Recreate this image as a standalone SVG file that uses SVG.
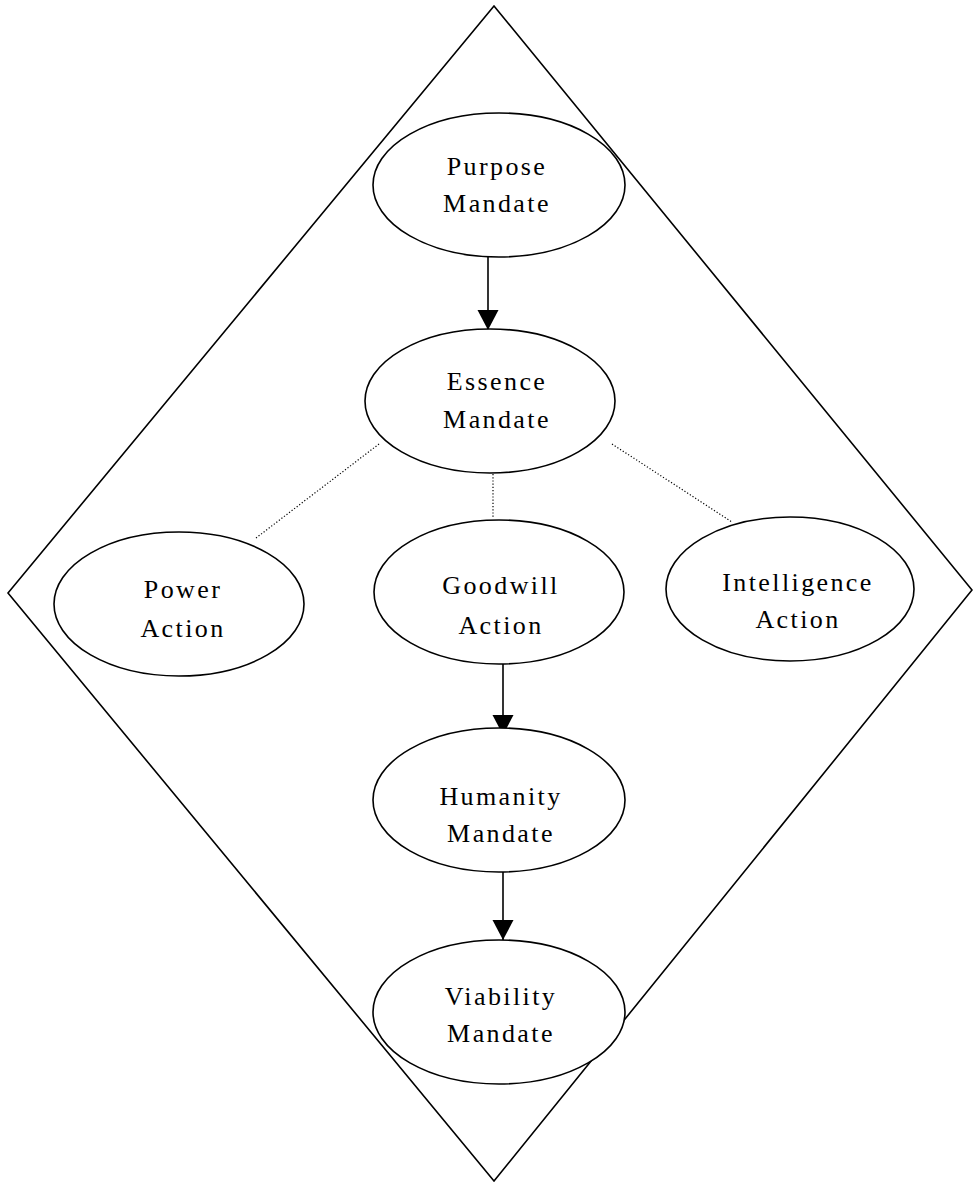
<svg xmlns="http://www.w3.org/2000/svg" width="973" height="1182" viewBox="0 0 973 1182">
<style>
.n{fill:#fff;stroke:#000;stroke-width:1.6}
.t{font-family:"Liberation Serif","Times New Roman",serif;font-size:26px;letter-spacing:2.4px;text-anchor:middle;fill:#000}
.a{stroke:#000;stroke-width:1.6;fill:none}
.d{stroke:#000;stroke-width:1.2;stroke-dasharray:1.2,2;fill:none}
</style>
<defs>
<marker id="ah" markerUnits="userSpaceOnUse" markerWidth="22" markerHeight="22" viewBox="0 0 22 22" refX="20" refY="11" orient="auto">
<path d="M0,0.5 L20,11 L0,21.5 Z" fill="#000"/>
</marker>
</defs>
<polygon points="494,6 972,590 494,1181 8,593" fill="none" stroke="#000" stroke-width="1.6"/>
<g id="connectors">
<line class="a" x1="488" y1="257" x2="488" y2="330" marker-end="url(#ah)"/>
<line class="a" x1="503" y1="664" x2="503" y2="735" marker-end="url(#ah)"/>
<line class="a" x1="503" y1="872" x2="503" y2="940" marker-end="url(#ah)"/>
<line class="d" x1="379" y1="444" x2="256" y2="538"/>
<line class="d" x1="493" y1="474" x2="493" y2="518"/>
<line class="d" x1="612" y1="444" x2="732" y2="522"/>
</g>
<g id="purpose"><ellipse class="n" cx="499" cy="185" rx="126" ry="72"/><text class="t" x="497" y="175">Purpose</text><text class="t" x="497" y="212">Mandate</text></g>
<g id="essence"><ellipse class="n" cx="490" cy="401" rx="125" ry="72"/><text class="t" x="497" y="390">Essence</text><text class="t" x="497" y="428">Mandate</text></g>
<g id="power"><ellipse class="n" cx="179" cy="604" rx="125" ry="72"/><text class="t" x="183" y="598">Power</text><text class="t" x="183" y="637">Action</text></g>
<g id="goodwill"><ellipse class="n" cx="499" cy="592" rx="125" ry="72"/><text class="t" x="501" y="594">Goodwill</text><text class="t" x="501" y="634">Action</text></g>
<g id="intelligence"><ellipse class="n" cx="790" cy="589" rx="124" ry="72"/><text class="t" x="798" y="591">Intelligence</text><text class="t" x="798" y="628">Action</text></g>
<g id="humanity"><ellipse class="n" cx="499" cy="800" rx="126" ry="72"/><text class="t" x="501" y="805">Humanity</text><text class="t" x="501" y="842">Mandate</text></g>
<g id="viability"><ellipse class="n" cx="499" cy="1012" rx="126" ry="72"/><text class="t" x="501" y="1005">Viability</text><text class="t" x="501" y="1042">Mandate</text></g>
</svg>
